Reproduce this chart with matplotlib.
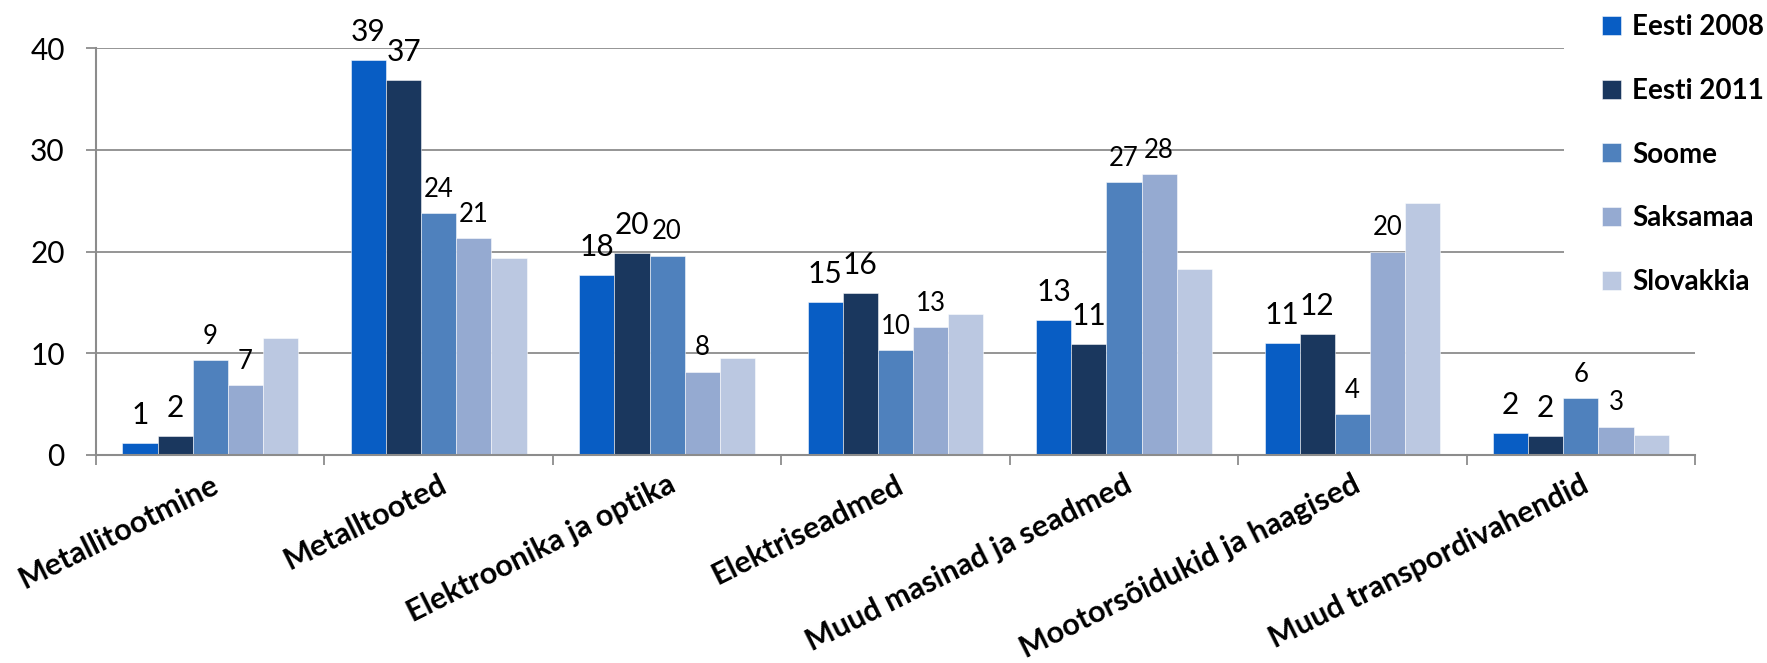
import matplotlib
matplotlib.use("Agg")
import matplotlib.pyplot as plt
from matplotlib.patches import Rectangle
import numpy as np

categories = ["Metallitootmine", "Metalltooted", "Elektroonika ja optika", "Elektriseadmed",
              "Muud masinad ja seadmed", "Mootorsõidukid ja haagised", "Muud transpordivahendid"]
series_names = ["Eesti 2008", "Eesti 2011", "Soome", "Saksamaa", "Slovakkia"]
eesti_2008 = [1.2, 38.8, 17.7, 15.0, 13.3, 11.0, 2.2]
eesti_2011 = [1.9, 36.9, 19.9, 15.9, 10.9, 11.9, 1.9]
soome = [9.3, 23.8, 19.6, 10.3, 26.8, 4.0, 5.6]
saksamaa = [6.9, 21.3, 8.2, 12.6, 27.6, 20.0, 2.8]
slovakkia = [11.5, 19.4, 9.5, 13.9, 18.3, 24.8, 2.0]
yticks = [0, 10, 20, 30, 40]

series = [eesti_2008, eesti_2011, soome, saksamaa, slovakkia]
colors = ["#085DC4", "#1A375E", "#4F81BD", "#95AAD1", "#BBC8E1"]
label_sizes = [21.5, 21.5, 18.5, 18.5, None]

plt.rcParams['font.family'] = ['Lato', 'DejaVu Sans']
W, H = 1767, 663
fig = plt.figure(figsize=(W / 100, H / 100), dpi=100)
ax = fig.add_axes([96 / W, (H - 455) / H, (1695 - 96) / W, (455 - 48) / H])

n = len(categories)
x = np.arange(n)
bw = 1 / 6.5
grid_c = "#8C8C8C"
bars_all = []
for i, (vals, col) in enumerate(zip(series, colors)):
    offs = (i - 2) * bw
    bars = ax.bar(x + offs, vals, width=bw, color=col, edgecolor=(1, 1, 1, 0.6),
                  linewidth=0.6, zorder=3, label=series_names[i])
    bars_all.append(bars)
    if label_sizes[i] is not None:
        for xi, v in zip(x, vals):
            ax.annotate(f"{v:.0f}", (xi + offs, v), xytext=(0, 10 if i < 2 else 8),
                        textcoords="offset points", ha="center", va="bottom",
                        fontsize=label_sizes[i], color="black", zorder=5, annotation_clip=False)

ax.set_xlim(-0.5, n - 0.5)
ax.set_ylim(0, 40)
ax.set_yticks(yticks)
ax.set_yticklabels([str(t) for t in yticks], fontsize=21.5)
ax.yaxis.grid(True, color=grid_c, linewidth=1.3, zorder=0)
ax.set_axisbelow(True)

ax.set_xticks(np.arange(n + 1) - 0.5)
ax.set_xticklabels([""] * (n + 1))
ax.set_xticks(x, minor=True)
ax.set_xticklabels(categories, minor=True, fontsize=22, fontweight="bold",
                   rotation=26.5, ha="right", rotation_mode="anchor")
ax.tick_params(axis="x", which="major", length=7.5, width=1.3, color=grid_c, direction="out")
ax.tick_params(axis="x", which="minor", length=0, pad=11)
ax.tick_params(axis="y", which="major", length=7.5, width=1.3, color=grid_c, pad=15)
for s in ["top", "right"]:
    ax.spines[s].set_visible(False)
for s in ["left", "bottom"]:
    ax.spines[s].set_color(grid_c)
    ax.spines[s].set_linewidth(1.5)
ax.spines["bottom"].set_zorder(4)

# white legend background covering the plot area's upper right
fig.add_artist(Rectangle((1564 / W, (H - 305) / H), (W - 1564) / W, 305 / H,
                         transform=fig.transFigure, facecolor="white", edgecolor="none", zorder=2))

leg = fig.legend(handles=bars_all, labels=series_names, loc="upper left",
                 bbox_to_anchor=(1602 / W, (H - 14) / H), frameon=False,
                 prop={"family": "Lato", "weight": "bold", "size": 20},
                 handlelength=0.68, handleheight=0.68, handletextpad=0.4,
                 labelspacing=1.36, borderpad=0, borderaxespad=0)
leg.set_zorder(3)

fig.savefig("out.png", dpi=100)
